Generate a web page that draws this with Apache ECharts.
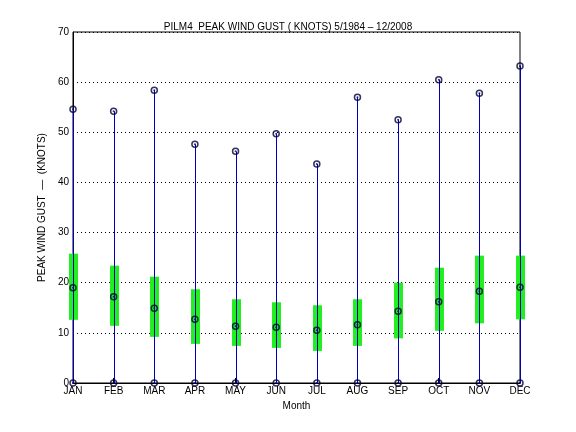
<!DOCTYPE html>
<html><head><meta charset="utf-8">
<script src="https://cdn.jsdelivr.net/npm/echarts@6/dist/echarts.min.js"></script>
<style>html,body{margin:0;background:#fff}#c{width:576px;height:432px}</style>
</head><body><div id="c"></div>
<script>
var months = ['JAN','FEB','MAR','APR','MAY','JUN','JUL','AUG','SEP','OCT','NOV','DEC'];
var maxGust = [54.6,54.2,58.4,47.6,46.2,49.7,43.7,57.0,52.5,60.5,57.8,63.2];
var minGust = [0,0,0,0,0,0,0,0,0,0,0,0];
var meanGust = [19.0,17.2,14.9,12.7,11.3,11.1,10.5,11.6,14.3,16.2,18.3,19.1];
var boxLow = [12.6,11.4,9.2,7.8,7.4,7.0,6.4,7.4,8.9,10.4,11.9,12.7];
var boxHigh = [25.8,23.4,21.2,18.7,16.7,16.1,15.5,16.7,20.0,23.0,25.4,25.4];

var chart = echarts.init(document.getElementById('c'));
var font = {fontFamily:'Liberation Sans', fontSize:10, color:'#000'};

var boxData = months.map(function(m,i){ return [i, minGust[i], maxGust[i], boxLow[i], boxHigh[i]]; });
var pts = [];
months.forEach(function(m,i){
  pts.push([i, minGust[i]]); pts.push([i, maxGust[i]]); pts.push([i, meanGust[i]]);
});

chart.setOption({
  animation: false,
  title: {text:'PILM4  PEAK WIND GUST ( KNOTS) 5/1984 – 12/2008', left:'center', top:17,
    textStyle:{fontFamily:'Liberation Sans', fontSize:10, fontWeight:'normal', color:'#000'}},
  grid: {left:73, right:56, top:32, bottom:49, show:true, borderColor:'#000', borderWidth:1},
  xAxis: {type:'category', data:months, boundaryGap:false,
    name:'Month', nameLocation:'middle', nameGap:18, nameTextStyle:font,
    axisLabel: Object.assign({margin:3}, font),
    axisTick:{inside:true, length:5, lineStyle:{color:'#000'}},
    axisLine:{lineStyle:{color:'#000'}},
    splitLine:{show:false}},
  yAxis: {type:'value', min:0, max:70, interval:10,
    name:'PEAK WIND GUST  —  (KNOTS)', nameLocation:'middle', nameGap:20, nameTextStyle:font,
    axisLabel: Object.assign({margin:4}, font),
    axisTick:{inside:true, length:5, lineStyle:{color:'#000'}},
    axisLine:{show:true, lineStyle:{color:'#000'}},
    splitLine:{show:true, lineStyle:{color:'#000', type:[1,3]}}},
  series: [{
    type:'custom', data:boxData, z:2,
    renderItem:function(params, api){
      var x = api.value(0);
      var pMin = api.coord([x, api.value(1)]);
      var pMax = api.coord([x, api.value(2)]);
      var pLo = api.coord([x, api.value(3)]);
      var pHi = api.coord([x, api.value(4)]);
      var px = Math.round(pMin[0]) + 0.5;
      return {type:'group', children:[
        {type:'rect', shape:{x:px-4.5, y:pHi[1], width:9, height:pLo[1]-pHi[1]}, style:{fill:'#22ee22'}},
        {type:'line', shape:{x1:px, y1:pMin[1], x2:px, y2:pMax[1]}, style:{stroke:'#0000bb', lineWidth:1}}
      ]};
    }
  },{
    type:'scatter', data:pts, symbol:'circle', symbolSize:6, z:3,
    itemStyle:{color:'rgba(0,0,0,0)', borderColor:'#000033', borderWidth:1.5}
  },{
    type:'scatter', data:pts, symbol:'circle', symbolSize:2, z:4,
    itemStyle:{color:'#000080'}
  }]
});
</script></body></html>
